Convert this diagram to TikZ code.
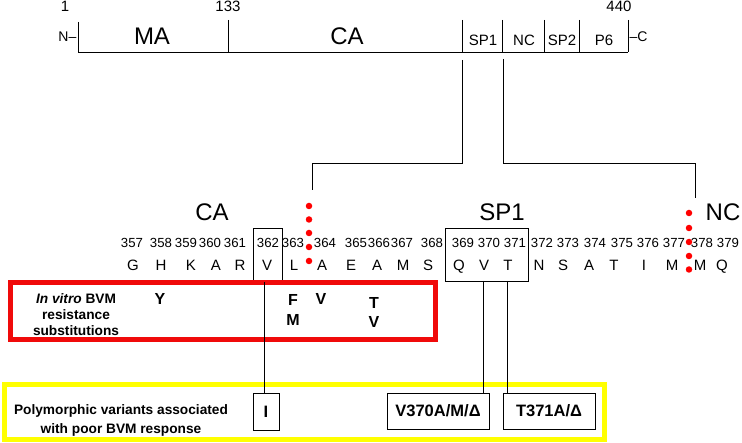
\documentclass[tikz,border=0pt]{standalone}
\usepackage{fontspec}
\setmainfont{Liberation Sans}
\definecolor{ylw}{RGB}{255,255,0}
\definecolor{rd}{RGB}{240,10,10}
\begin{document}
\begin{tikzpicture}[x=1pt,y=-1pt,
  ln/.style={line width=0.9pt,draw=black},
  big/.style={font=\fontsize{24}{24}\selectfont,inner sep=0pt,text height=17.2pt,text depth=0pt},
  seg/.style={font=\fontsize{15}{15}\selectfont,inner sep=0pt,text height=10.7pt,text depth=0pt},
  endl/.style={font=\fontsize{14}{14}\selectfont,inner sep=0pt,text height=10pt,text depth=0pt},
  num/.style={font=\fontsize{13.2}{13.2}\selectfont,inner sep=0pt,text height=9.5pt,text depth=0pt},
  aa/.style={font=\fontsize{15}{15}\selectfont,inner sep=0pt,text height=10.7pt,text depth=0pt},
  subst/.style={font=\bfseries\fontsize{16}{16}\selectfont,inner sep=0pt,text height=11.5pt,text depth=0pt},
  rdot/.style={circle,fill=red,inner sep=0pt,minimum size=6.5pt},
  seqbox/.style={draw,line width=0.9pt,inner sep=0pt,outer sep=0pt},
  varbox/.style={draw,line width=0.9pt,inner sep=0pt,outer sep=0pt,
    font=\bfseries\fontsize{16.5}{16.5}\selectfont,text height=11.8pt,text depth=0pt},
  note/.style={font=\bfseries\fontsize{13.7}{16}\selectfont,align=center,inner sep=0pt}
]
\useasboundingbox (0,0) rectangle (742,443);

% ---- top Gag bar ----
\coordinate (t0) at (78,22);
\coordinate (b0) at (78,52);
\coordinate (bE) at (628,52);
\draw[ln] (t0) -- (b0) -- (bE);
\foreach \x [count=\i] in {228,462,502,544,579,628}
  \draw[ln] (\x,20) -- (\x,52);
\node[endl,font=\fontsize{15}{15}\selectfont] (one) at (65,6.5) {1};
\node[endl,font=\fontsize{15}{15}\selectfont] (n133) at (228,6.5) {133};
\node[endl,font=\fontsize{15}{15}\selectfont] (n440) at (619,6.5) {440};
\node[endl,anchor=east] (Nterm) at (76.5,37) {N–};
\node[endl,anchor=west] (Cterm) at (629.5,37) {–C};
\node[big] (MA) at (152,35.5) {MA};
\node[big] (CAt) at (347,35.5) {CA};
\node[seg] (SP1t) at (483,40) {SP1};
\node[seg] (NCt) at (524,40) {NC};
\node[seg] (SP2t) at (562,40) {SP2};
\node[seg] (P6t) at (604,40) {P6};

% ---- zoom connectors ----
\coordinate (z1) at (462,60);
\coordinate (z1e) at (312,190);
\coordinate (z2) at (503,59);
\coordinate (z2e) at (695,198);
\coordinate (hy) at (0,163);
\draw[ln] (z1) -- (z1 |- hy) -- (z1e |- hy) -- (z1e);
\draw[ln] (z2) -- (z2 |- hy) -- (z2e |- hy) -- (z2e);

% ---- region labels ----
\node[big] (CAm) at (212,212) {CA};
\node[big] (SP1m) at (502,212) {SP1};
\node[big] (NCm) at (723,212) {NC};

% ---- boxes around residues ----
\node[seqbox,minimum width=29pt,minimum height=54pt] (Vbox) at (267.5,255) {};
\node[seqbox,minimum width=83pt,minimum height=53pt] (SPbox) at (486.5,254.5) {};

% ---- numbers ----
\foreach \n/\x in {357/132,358/161,359/186,360/210,361/235,362/268,363/293,364/325,365/356,366/379,367/402,368/432,369/463,370/489,371/515,372/542,373/568,374/595,375/622,376/648,377/674,378/702,379/728}
  \node[num] (n\n) at (\x,242.5) {\n};
% ---- residues ----
\foreach \a/\x [count=\i] in {G/133,H/161,K/191,A/216,R/240,V/267,L/294,A/322,E/351,A/377,M/403,S/428,Q/459,V/484,T/508,N/539,S/563,A/589,T/614,I/644,M/672,M/700,Q/722}
  \node[aa] (r\i) at (\x,265.5) {\a};

% ---- cleavage dots ----
\foreach \y [count=\i] in {206,219.5,233,247,261}
  \node[rdot] (da\i) at (309,\y) {};
\foreach \y [count=\i] in {213,228,242,256,269.5}
  \node[rdot] (db\i) at (689,\y) {};

% ---- red box ----
\node[draw=rd,line width=5pt,minimum width=425pt,minimum height=57pt,inner sep=0pt] (redbox) at (222.5,311) {};
\node[note] (rtext) at (76,315) {{\itshape In vitro} BVM\\resistance\\substitutions};
\node[subst] (sY) at (160,299) {Y};
\node[subst] (sF) at (293,300) {F};
\node[subst] (sM) at (293,319.5) {M};
\node[subst] (sV) at (321,299) {V};
\node[subst] (sT) at (374,302.5) {T};
\node[subst] (sV2) at (374,322) {V};

% ---- yellow box ----
\node[draw=ylw,line width=5pt,minimum width=600pt,minimum height=55pt,inner sep=0pt] (ylwbox) at (304,412.5) {};
\node[note,font=\bfseries\fontsize{13.7}{19}\selectfont,text depth=0pt] (ptext) at (121,419) {Polymorphic variants associated\\with poor BVM response};
\node[varbox,minimum width=26pt,minimum height=37pt] (Ibox) at (266,411.5) {I};
\node[varbox,minimum width=102pt,minimum height=36pt] (V370) at (438,411) {V370A/M/Δ};
\node[varbox,minimum width=92pt,minimum height=36pt] (T371) at (549,411) {T371A/Δ};

% ---- links ----
\coordinate (xI) at (264.5,0);
\coordinate (xV) at (483,0);
\coordinate (xT) at (507,0);
\draw[ln] (Vbox.south -| xI) -- (Ibox.north -| xI);
\draw[ln] (SPbox.south -| xV) -- (V370.north -| xV);
\draw[ln] (SPbox.south -| xT) -- (T371.north -| xT);
\end{tikzpicture}
\end{document}
